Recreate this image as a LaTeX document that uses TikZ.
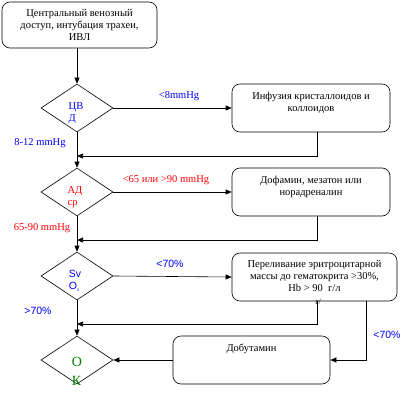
\documentclass[tikz,border=0pt]{standalone}
\usepackage{fontspec}
\setmainfont{Liberation Serif}
\setsansfont{Liberation Sans}
\usetikzlibrary{arrows.meta,positioning,shapes.geometric}
\definecolor{cvblue}{RGB}{0,0,255}
\definecolor{cvred}{RGB}{255,0,0}
\definecolor{cvgreen}{RGB}{0,128,0}
\newcommand{\txt}{\fontsize{10.5}{12}\selectfont}

\begin{document}
\begin{tikzpicture}[x=1pt, y=-1pt,
  font=\txt,
  box/.style={draw, rectangle, rounded corners=8pt, line width=0.6pt, minimum height=48pt, inner sep=0pt},
  boxtxt/.style={anchor=north, align=center, inner sep=0pt},
  dia/.style={draw, diamond, minimum width=72pt, minimum height=48pt, inner sep=0pt, line width=0.6pt},
  dlbl/.style={align=left, inner sep=0pt},
  >={Triangle[length=6pt,width=5pt]},
  arr/.style={->, line width=0.6pt},
]
\useasboundingbox (0,0) rectangle (414,409);
% boxes
\node[box, minimum width=155pt, minimum height=46pt] (access) at (79.5,25) {};
\node[boxtxt, below=7pt of access.north] (accessT) {Центральный венозный\\доступ, интубация трахеи,\\ИВЛ};
\node[box, minimum width=158pt] (infus) at (311,108) {};
\node[boxtxt, below=8pt of infus.north] (infusT) {Инфузия кристаллоидов и\\коллоидов};
\node[box, minimum width=158pt] (dopa) at (311,192) {};
\node[boxtxt, below=8pt of dopa.north] (dopaT) {Дофамин, мезатон или\\норадреналин};
\node[box, minimum width=165pt] (transf) at (314.5,277) {};
\node[boxtxt, below=7pt of transf.north] (transfT) {Переливание эритроцитарной\\массы до гематокрита >30\%,\\Hb > 90~~г/л};
\node[font=\fontsize{8}{8}\selectfont, inner sep=0pt] (gl) at (318,302) {г/};
\node[box, minimum width=157pt] (dobut) at (251.5,360) {};
\node[boxtxt, below=8pt of dobut.north] (dobutT) {Добутамин};
% diamonds
\node[dia] (cvd) at (77,108) {};
\node[dlbl, text=cvblue] (cvdT) at (76,113) {ЦВ\\Д};
\node[dia] (adcp) at (77,192) {};
\node[dlbl, text=cvred] (adcpT) at (75,197) {АД\\ср};
\node[dia] (svo) at (77,276) {};
\node[dlbl, text=cvblue, font=\sffamily\txt] (svoT) at (75,281) {Sv\\O\rlap{\raisebox{-2pt}{\fontsize{4}{4}\selectfont 2}}};
\node[dia] (ok) at (77,360) {};
\node[dlbl, text=cvgreen, font=\fontsize{14}{19}\selectfont] (okT) at (77,371) {О\\К};
% join points
\coordinate (j1) at (77,156);
\coordinate (j2) at (77,240);
\coordinate (j3) at (77,324);
% connectors
\draw[arr] (cvd.north |- access.south) -- (cvd.north);
\draw[arr] (cvd.east) -- (infus.west);
\draw[arr] ([xshift=6pt]infus.south) |- (j1);
\draw[arr] (cvd.south) -- (adcp.north);
\draw[arr] (adcp.east) -- (dopa.west);
\draw[arr] ([xshift=6pt]dopa.south) |- (j2);
\draw[arr] (adcp.south) -- (svo.north);
\draw[arr] (svo.east) -- (transf.west);
\draw[arr] ([xshift=2.5pt]transf.south) |- (j3);
\draw[arr] ([xshift=51.5pt]transf.south) |- (dobut.east);
\draw[arr] (svo.south) -- (ok.north);
\draw[arr] (dobut.west) -- (ok.east);
% condition labels
\node[text=cvblue] (lowCVD) at (179,96) {<8mmHg};
\node[text=cvblue] (okCVD) at (40,143) {8-12 mmHg};
\node[text=cvred] (badAD) at (166,180) {<65 или >90 mmHg};
\node[text=cvred] (okAD) at (42,228) {65-90 mmHg};
\node[text=cvblue, font=\sffamily\txt] (lowSvO) at (170,264) {<70\%};
\node[text=cvblue, font=\sffamily\txt] (okSvO) at (38,311) {>70\%};
\node[text=cvblue, font=\sffamily\txt] (lowSvO2) at (387,335) {<70\%};
\end{tikzpicture}
\end{document}
